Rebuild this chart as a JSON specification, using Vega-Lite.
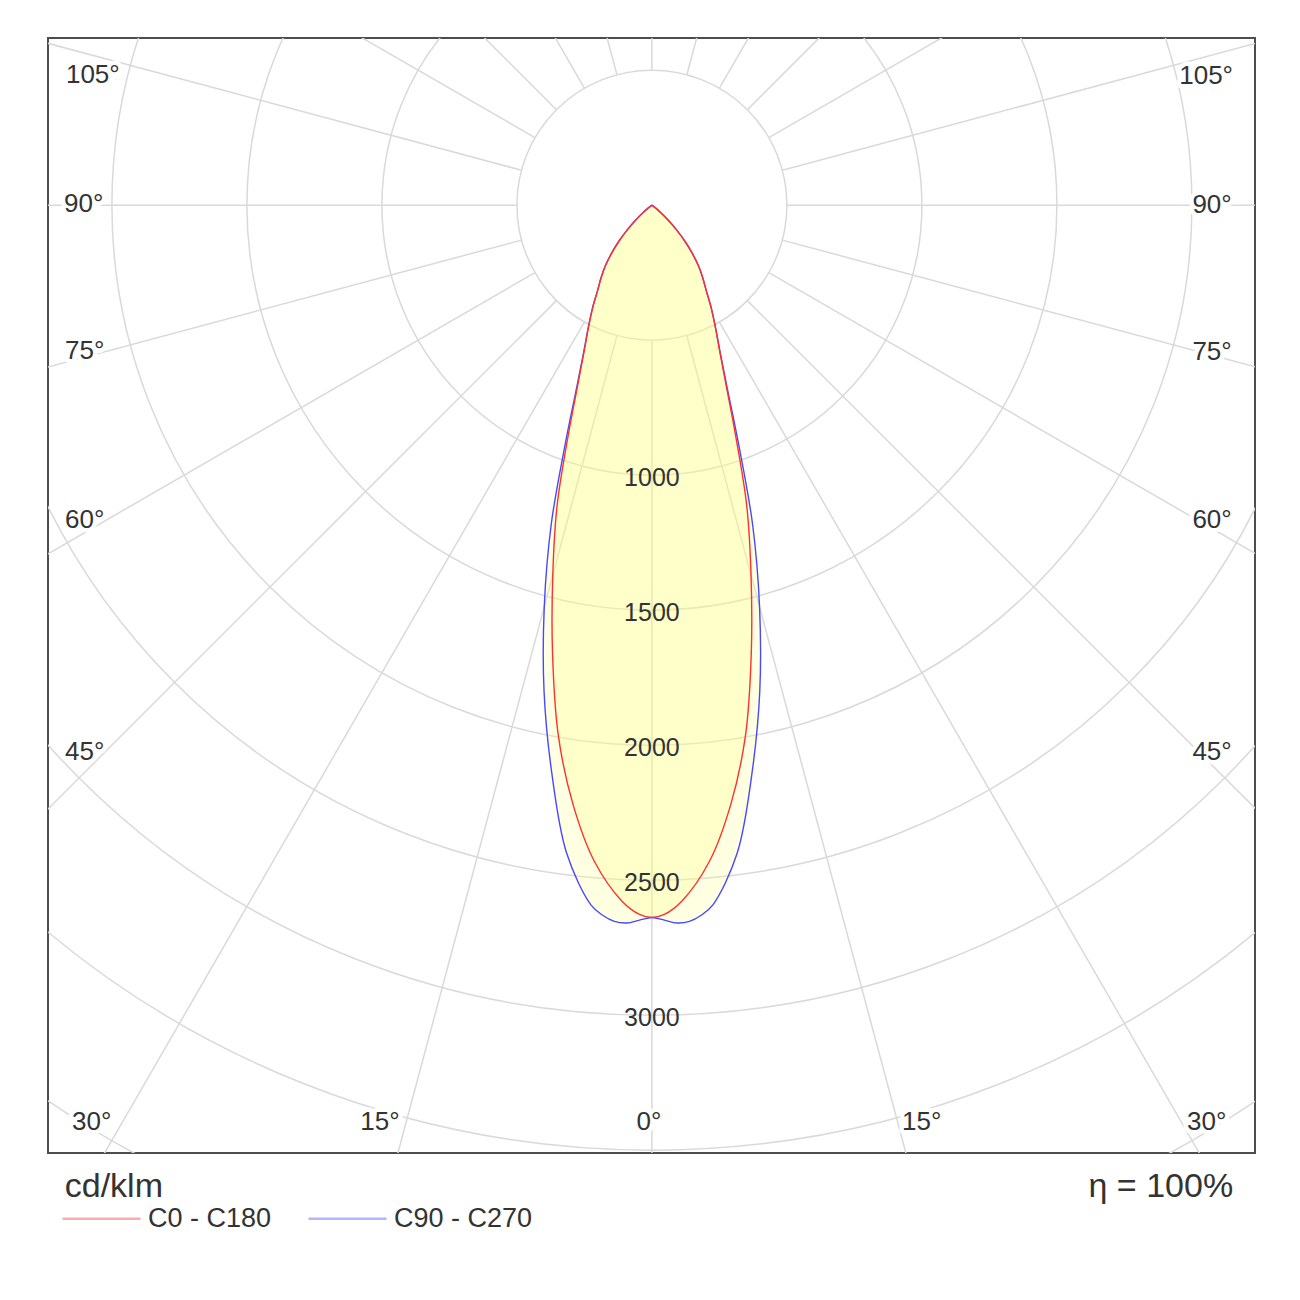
{
  "$schema": "https://vega.github.io/schema/vega-lite/v6.json",
  "description": "Polar luminous intensity diagram, C0-C180 and C90-C270 planes (cd/klm).",
  "width": 1207,
  "height": 1115,
  "autosize": "none",
  "padding": {"left": 48, "top": 38, "right": 45, "bottom": 147},
  "background": "white",
  "datasets": {
    "rings": [
      {"r": 500}, {"r": 1000}, {"r": 1500}, {"r": 2000},
      {"r": 2500}, {"r": 3000}, {"r": 3500}, {"r": 4000}
    ],
    "spokes": [
      {"deg": 0}, {"deg": 15}, {"deg": 30}, {"deg": 45}, {"deg": 60}, {"deg": 75},
      {"deg": 90}, {"deg": 105}, {"deg": 120}, {"deg": 135}, {"deg": 150}, {"deg": 165},
      {"deg": 180}, {"deg": 195}, {"deg": 210}, {"deg": 225}, {"deg": 240}, {"deg": 255},
      {"deg": 270}, {"deg": 285}, {"deg": 300}, {"deg": 315}, {"deg": 330}, {"deg": 345}
    ],
    "angles": [
      {"label": "105°", "px": -2070, "py": 483},
      {"label": "90°", "px": -2104, "py": 6},
      {"label": "75°", "px": -2100, "py": -539},
      {"label": "60°", "px": -2100, "py": -1165},
      {"label": "45°", "px": -2100, "py": -2024},
      {"label": "30°", "px": -2074, "py": -3396},
      {"label": "15°", "px": -1007, "py": -3396},
      {"label": "0°", "px": -11, "py": -3396},
      {"label": "15°", "px": 999, "py": -3396},
      {"label": "30°", "px": 2054, "py": -3396},
      {"label": "45°", "px": 2074, "py": -2024},
      {"label": "60°", "px": 2074, "py": -1165},
      {"label": "75°", "px": 2074, "py": -543},
      {"label": "90°", "px": 2074, "py": 2},
      {"label": "105°", "px": 2052, "py": 480}
    ],
    "curves": [
      {"plane": "C90 - C270", "gamma": -57.5, "cd": 0},
      {"plane": "C90 - C270", "gamma": -52.5, "cd": 18},
      {"plane": "C90 - C270", "gamma": -50, "cd": 42},
      {"plane": "C90 - C270", "gamma": -47.5, "cd": 80},
      {"plane": "C90 - C270", "gamma": -45, "cd": 128},
      {"plane": "C90 - C270", "gamma": -42.5, "cd": 180},
      {"plane": "C90 - C270", "gamma": -40, "cd": 232},
      {"plane": "C90 - C270", "gamma": -37.5, "cd": 283},
      {"plane": "C90 - C270", "gamma": -35, "cd": 328},
      {"plane": "C90 - C270", "gamma": -32.5, "cd": 374},
      {"plane": "C90 - C270", "gamma": -30, "cd": 440},
      {"plane": "C90 - C270", "gamma": -27.5, "cd": 510},
      {"plane": "C90 - C270", "gamma": -25, "cd": 596},
      {"plane": "C90 - C270", "gamma": -22.5, "cd": 725},
      {"plane": "C90 - C270", "gamma": -20, "cd": 935},
      {"plane": "C90 - C270", "gamma": -17.5, "cd": 1240},
      {"plane": "C90 - C270", "gamma": -15, "cd": 1540},
      {"plane": "C90 - C270", "gamma": -12.5, "cd": 1845},
      {"plane": "C90 - C270", "gamma": -10, "cd": 2135},
      {"plane": "C90 - C270", "gamma": -7.5, "cd": 2420},
      {"plane": "C90 - C270", "gamma": -5, "cd": 2600},
      {"plane": "C90 - C270", "gamma": -4, "cd": 2635},
      {"plane": "C90 - C270", "gamma": -3, "cd": 2656},
      {"plane": "C90 - C270", "gamma": -2, "cd": 2660},
      {"plane": "C90 - C270", "gamma": -1, "cd": 2648},
      {"plane": "C90 - C270", "gamma": 0, "cd": 2638},
      {"plane": "C90 - C270", "gamma": 1, "cd": 2648},
      {"plane": "C90 - C270", "gamma": 2, "cd": 2660},
      {"plane": "C90 - C270", "gamma": 3, "cd": 2656},
      {"plane": "C90 - C270", "gamma": 4, "cd": 2635},
      {"plane": "C90 - C270", "gamma": 5, "cd": 2600},
      {"plane": "C90 - C270", "gamma": 7.5, "cd": 2420},
      {"plane": "C90 - C270", "gamma": 10, "cd": 2135},
      {"plane": "C90 - C270", "gamma": 12.5, "cd": 1845},
      {"plane": "C90 - C270", "gamma": 15, "cd": 1540},
      {"plane": "C90 - C270", "gamma": 17.5, "cd": 1240},
      {"plane": "C90 - C270", "gamma": 20, "cd": 935},
      {"plane": "C90 - C270", "gamma": 22.5, "cd": 725},
      {"plane": "C90 - C270", "gamma": 25, "cd": 596},
      {"plane": "C90 - C270", "gamma": 27.5, "cd": 510},
      {"plane": "C90 - C270", "gamma": 30, "cd": 440},
      {"plane": "C90 - C270", "gamma": 32.5, "cd": 374},
      {"plane": "C90 - C270", "gamma": 35, "cd": 328},
      {"plane": "C90 - C270", "gamma": 37.5, "cd": 283},
      {"plane": "C90 - C270", "gamma": 40, "cd": 232},
      {"plane": "C90 - C270", "gamma": 42.5, "cd": 180},
      {"plane": "C90 - C270", "gamma": 45, "cd": 128},
      {"plane": "C90 - C270", "gamma": 47.5, "cd": 80},
      {"plane": "C90 - C270", "gamma": 50, "cd": 42},
      {"plane": "C90 - C270", "gamma": 52.5, "cd": 18},
      {"plane": "C90 - C270", "gamma": 57.5, "cd": 0},
      {"plane": "C0 - C180", "gamma": -57.5, "cd": 0},
      {"plane": "C0 - C180", "gamma": -52.5, "cd": 18},
      {"plane": "C0 - C180", "gamma": -50, "cd": 42},
      {"plane": "C0 - C180", "gamma": -47.5, "cd": 80},
      {"plane": "C0 - C180", "gamma": -45, "cd": 128},
      {"plane": "C0 - C180", "gamma": -42.5, "cd": 180},
      {"plane": "C0 - C180", "gamma": -40, "cd": 232},
      {"plane": "C0 - C180", "gamma": -37.5, "cd": 283},
      {"plane": "C0 - C180", "gamma": -35, "cd": 328},
      {"plane": "C0 - C180", "gamma": -32.5, "cd": 374},
      {"plane": "C0 - C180", "gamma": -30, "cd": 438},
      {"plane": "C0 - C180", "gamma": -27.5, "cd": 508},
      {"plane": "C0 - C180", "gamma": -25, "cd": 592},
      {"plane": "C0 - C180", "gamma": -22.5, "cd": 715},
      {"plane": "C0 - C180", "gamma": -20, "cd": 905},
      {"plane": "C0 - C180", "gamma": -17.5, "cd": 1168},
      {"plane": "C0 - C180", "gamma": -15, "cd": 1418},
      {"plane": "C0 - C180", "gamma": -12.5, "cd": 1700},
      {"plane": "C0 - C180", "gamma": -10, "cd": 1995},
      {"plane": "C0 - C180", "gamma": -7.5, "cd": 2238},
      {"plane": "C0 - C180", "gamma": -5, "cd": 2440},
      {"plane": "C0 - C180", "gamma": -2.5, "cd": 2578},
      {"plane": "C0 - C180", "gamma": -1, "cd": 2627},
      {"plane": "C0 - C180", "gamma": 0, "cd": 2638},
      {"plane": "C0 - C180", "gamma": 1, "cd": 2627},
      {"plane": "C0 - C180", "gamma": 2.5, "cd": 2578},
      {"plane": "C0 - C180", "gamma": 5, "cd": 2440},
      {"plane": "C0 - C180", "gamma": 7.5, "cd": 2238},
      {"plane": "C0 - C180", "gamma": 10, "cd": 1995},
      {"plane": "C0 - C180", "gamma": 12.5, "cd": 1700},
      {"plane": "C0 - C180", "gamma": 15, "cd": 1418},
      {"plane": "C0 - C180", "gamma": 17.5, "cd": 1168},
      {"plane": "C0 - C180", "gamma": 20, "cd": 905},
      {"plane": "C0 - C180", "gamma": 22.5, "cd": 715},
      {"plane": "C0 - C180", "gamma": 25, "cd": 592},
      {"plane": "C0 - C180", "gamma": 27.5, "cd": 508},
      {"plane": "C0 - C180", "gamma": 30, "cd": 438},
      {"plane": "C0 - C180", "gamma": 32.5, "cd": 374},
      {"plane": "C0 - C180", "gamma": 35, "cd": 328},
      {"plane": "C0 - C180", "gamma": 37.5, "cd": 283},
      {"plane": "C0 - C180", "gamma": 40, "cd": 232},
      {"plane": "C0 - C180", "gamma": 42.5, "cd": 180},
      {"plane": "C0 - C180", "gamma": 45, "cd": 128},
      {"plane": "C0 - C180", "gamma": 47.5, "cd": 80},
      {"plane": "C0 - C180", "gamma": 50, "cd": 42},
      {"plane": "C0 - C180", "gamma": 52.5, "cd": 18},
      {"plane": "C0 - C180", "gamma": 57.5, "cd": 0}
    ]
  },
  "encoding": {
    "x": {
      "field": "px",
      "type": "quantitative",
      "scale": {"domain": [-2236, 2233], "zero": false, "nice": false},
      "axis": null
    },
    "y": {
      "field": "py",
      "type": "quantitative",
      "scale": {"domain": [-3510, 619], "zero": false, "nice": false},
      "axis": null
    }
  },
  "layer": [
    {
      "data": {"name": "rings"},
      "transform": [
        {"calculate": "0", "as": "px"},
        {"calculate": "0", "as": "py"}
      ],
      "mark": {"type": "point", "shape": "circle", "filled": false, "color": "#d9d9d9", "strokeWidth": 1.5, "opacity": 1, "clip": true},
      "encoding": {
        "size": {
          "field": "r",
          "type": "quantitative",
          "scale": {"type": "pow", "exponent": 2, "domain": [0, 4000], "range": [0, 4665600]},
          "legend": null
        }
      }
    },
    {
      "data": {"name": "spokes"},
      "transform": [
        {"calculate": "500*sin(datum.deg*PI/180)", "as": "px"},
        {"calculate": "-500*cos(datum.deg*PI/180)", "as": "py"},
        {"calculate": "6000*sin(datum.deg*PI/180)", "as": "px2"},
        {"calculate": "-6000*cos(datum.deg*PI/180)", "as": "py2"}
      ],
      "mark": {"type": "rule", "color": "#d9d9d9", "strokeWidth": 1.5, "clip": true},
      "encoding": {
        "x2": {"field": "px2"},
        "y2": {"field": "py2"}
      }
    },
    {
      "data": {"name": "curves"},
      "transform": [
        {"calculate": "datum.cd*sin(datum.gamma*PI/180)", "as": "px"},
        {"calculate": "-datum.cd*cos(datum.gamma*PI/180)", "as": "py"}
      ],
      "mark": {"type": "line", "fill": "#ffff80", "fillOpacity": 0.24, "strokeWidth": 0, "interpolate": "catmull-rom"},
      "encoding": {
        "detail": {"field": "plane", "type": "nominal"},
        "order": {"field": "gamma", "type": "quantitative"}
      }
    },
    {
      "data": {"name": "curves"},
      "transform": [
        {"calculate": "datum.cd*sin(datum.gamma*PI/180)", "as": "px"},
        {"calculate": "-datum.cd*cos(datum.gamma*PI/180)", "as": "py"}
      ],
      "mark": {"type": "line", "strokeWidth": 1.4, "interpolate": "catmull-rom"},
      "encoding": {
        "order": {"field": "gamma", "type": "quantitative"},
        "color": {
          "field": "plane",
          "type": "nominal",
          "scale": {"domain": ["C0 - C180", "C90 - C270"], "range": ["#ff3030", "#4848ff"]},
          "legend": {
            "orient": "none",
            "legendX": 13,
            "legendY": 1140,
            "direction": "horizontal",
            "title": null,
            "padding": 0,
            "symbolType": "stroke",
            "symbolSize": 6084,
            "symbolStrokeWidth": 2.5,
            "symbolOpacity": 0.4,
            "labelFont": "Liberation Sans",
            "labelFontSize": 27,
            "labelColor": "#333333",
            "labelOffset": 6,
            "columnPadding": 31
          }
        }
      }
    },
    {
      "data": {"name": "rings"},
      "transform": [
        {"filter": "datum.r >= 1000 && datum.r <= 3000"},
        {"calculate": "0", "as": "px"},
        {"calculate": "-datum.r", "as": "py"}
      ],
      "mark": {"type": "text", "font": "Liberation Sans", "fontSize": 25, "color": "#333333", "baseline": "middle", "dy": 3},
      "encoding": {
        "text": {"field": "r", "type": "quantitative", "format": "d"}
      }
    },
    {
      "data": {"name": "angles"},
      "mark": {"type": "text", "font": "Liberation Sans", "fontSize": 26, "fill": "white", "stroke": "white", "strokeWidth": 9, "strokeJoin": "round", "baseline": "middle"},
      "encoding": {
        "text": {"field": "label", "type": "nominal"}
      }
    },
    {
      "data": {"name": "angles"},
      "mark": {"type": "text", "font": "Liberation Sans", "fontSize": 26, "color": "#333333", "baseline": "middle"},
      "encoding": {
        "text": {"field": "label", "type": "nominal"}
      }
    },
    {
      "data": {"values": [{"note": "cd/klm", "px": -2174, "py": -3672}]},
      "mark": {"type": "text", "font": "Liberation Sans", "fontSize": 34, "color": "#333333", "align": "left", "baseline": "alphabetic"},
      "encoding": {
        "text": {"field": "note", "type": "nominal"}
      }
    },
    {
      "data": {"values": [{"note": "η = 100%", "px": 2152, "py": -3672}]},
      "mark": {"type": "text", "font": "Liberation Sans", "fontSize": 34, "color": "#333333", "align": "right", "baseline": "alphabetic"},
      "encoding": {
        "text": {"field": "note", "type": "nominal"}
      }
    }
  ],
  "config": {
    "view": {"stroke": "#4d4d4d", "strokeWidth": 2}
  }
}
